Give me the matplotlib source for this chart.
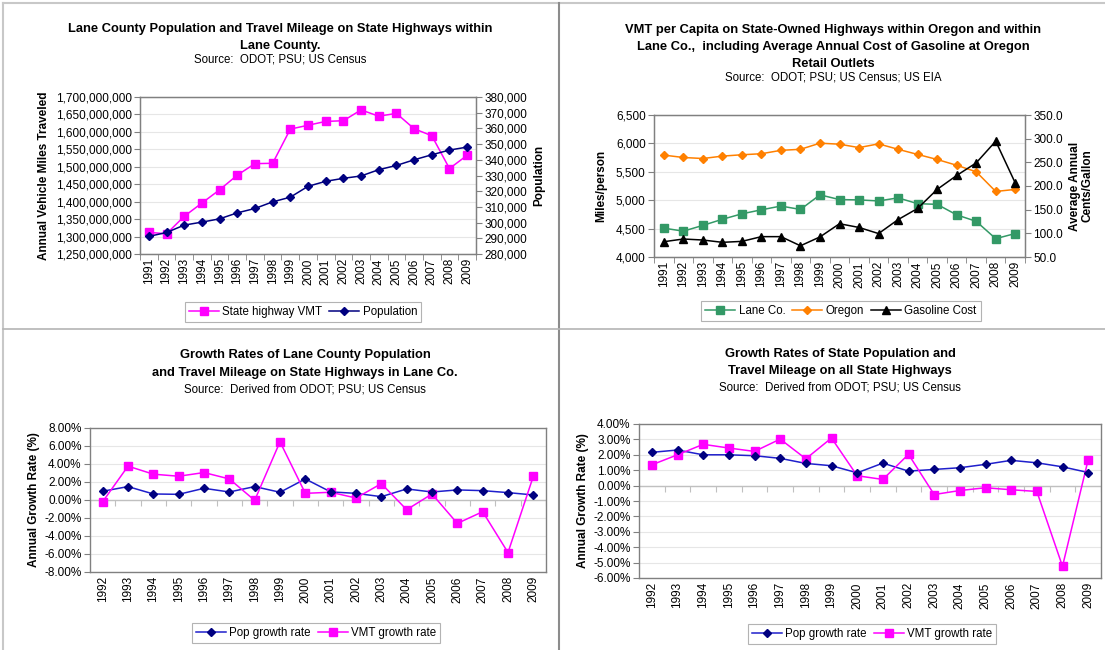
import matplotlib
matplotlib.use("Agg")
import matplotlib.pyplot as plt
from matplotlib.lines import Line2D
from matplotlib.ticker import FuncFormatter, MultipleLocator, FixedLocator
import numpy as np

plt.rcParams['font.family'] = ['Liberation Sans', 'DejaVu Sans']

# ---------------- data ----------------
years_a = [str(y) for y in range(1991, 2010)]
years_b = [str(y) for y in range(1992, 2010)]

lane_vmt = [1312e6, 1308e6, 1358e6, 1396e6, 1434e6, 1476e6, 1509e6, 1510e6, 1608e6,
            1619e6, 1630e6, 1632e6, 1663e6, 1645e6, 1653e6, 1609e6, 1589e6, 1495e6, 1533e6]
lane_pop = [291200, 293700, 298400, 300300, 302400, 306200, 309000, 313200, 316200,
            323100, 326300, 328200, 329700, 333700, 336400, 340000, 343200, 346200, 348100]

lane_per_cap = [4508, 4455, 4556, 4664, 4760, 4831, 4897, 4837, 5094, 5011, 5005,
                4987, 5041, 4939, 4927, 4742, 4628, 4323, 4413]
oregon_per_cap = [5794, 5752, 5734, 5776, 5800, 5818, 5878, 5896, 6004, 5986, 5926,
                  5992, 5896, 5806, 5717, 5615, 5501, 5154, 5190]
gas_cost = [82.3, 88.0, 85.9, 81.0, 83.0, 93.0, 93.0, 73.7, 92.4, 120.3, 112.4,
            99.5, 129.0, 152.6, 192.8, 222.2, 248.8, 294.7, 206.5]

lane_pop_growth = [0.97, 1.49, 0.67, 0.63, 1.30, 0.89, 1.49, 0.86, 2.34, 0.90, 0.74,
                   0.37, 1.23, 0.89, 1.12, 1.04, 0.82, 0.56]
lane_vmt_growth = [-0.19, 3.76, 2.87, 2.64, 3.05, 2.34, -0.04, 6.47, 0.74, 0.86, 0.22,
                   1.82, -1.08, 0.67, -2.60, -1.30, -5.84, 2.64]

state_pop_growth = [2.16, 2.31, 2.00, 2.00, 1.94, 1.77, 1.44, 1.29, 0.83, 1.46, 0.94,
                    1.05, 1.16, 1.38, 1.64, 1.48, 1.22, 0.85]
state_vmt_growth = [1.35, 2.00, 2.68, 2.44, 2.22, 3.02, 1.74, 3.09, 0.64, 0.40, 2.03,
                    -0.58, -0.32, -0.14, -0.27, -0.38, -5.24, 1.68]

# ---------------- styling ----------------
W, H = 1105, 650
MAGENTA = '#FF00FF'
NAVY = '#000080'
BLUE = '#1F1FCC'
GREEN = '#339966'
ORANGE = '#FF8000'
FRAME = '#808080'
GRID = '#E6E6E6'
TICKFS = 8.5
LABFS = 8.5

fig = plt.figure(figsize=(W / 100, H / 100), dpi=100)
fig.patch.set_facecolor('white')


def box(l, t, r, b):
    return [l / W, 1 - b / H, (r - l) / W, (b - t) / H]


def fx(x):
    return x / W


def fy(y):
    return 1 - y / H


def style_axes(ax, n):
    for s in ax.spines.values():
        s.set_color(FRAME)
        s.set_linewidth(1.0)
    ax.set_xlim(-0.5, n - 0.5)
    ax.yaxis.grid(True, color=GRID, linewidth=0.8)
    ax.set_axisbelow(True)
    ax.tick_params(axis='y', direction='out', length=4, color=FRAME, labelsize=TICKFS, pad=2)
    ax.tick_params(axis='x', which='major', length=0, labelsize=TICKFS, pad=3, labelrotation=90)
    ax.xaxis.set_minor_locator(FixedLocator(np.arange(-0.5, n, 1.0)))
    ax.tick_params(axis='x', which='minor', direction='out', length=4, color=FRAME)


def add_title(x, ys, lines, source):
    for y, line in zip(ys[:-1], lines):
        fig.text(fx(x), fy(y), line, ha='center', va='center', fontsize=9.3, fontweight='bold')
    fig.text(fx(x), fy(ys[-1]), source, ha='center', va='center', fontsize=8.3)


def add_legend(ax, handles, labels, cx, cy):
    leg = fig.legend(handles, labels, loc='center', bbox_to_anchor=(fx(cx), fy(cy)),
                     ncol=len(handles), fontsize=8.3, frameon=True, fancybox=False,
                     edgecolor='#A0A0A0', handlelength=2.6, handletextpad=0.3,
                     columnspacing=0.6, borderpad=0.35)
    leg.get_frame().set_linewidth(0.8)
    return leg


# ---------------- panel 1: top-left ----------------
ax1 = fig.add_axes(box(140, 97, 476, 254))
x1 = np.arange(len(years_a))
l1, = ax1.plot(x1, lane_vmt, color=MAGENTA, marker='s', markersize=6, linewidth=1.1, zorder=3)
ax1.set_ylim(1250e6, 1700e6)
ax1.yaxis.set_major_locator(MultipleLocator(50e6))
ax1.yaxis.set_major_formatter(FuncFormatter(lambda v, p: f'{v:,.0f}'))
ax1.set_xticks(x1)
ax1.set_xticklabels(years_a)
style_axes(ax1, len(years_a))
ax1.set_ylabel('Annual Vehicle Miles Traveled', fontsize=LABFS, fontweight='bold', labelpad=4)

ax1b = ax1.twinx()
l2, = ax1b.plot(x1, lane_pop, color=NAVY, marker='D', markersize=4.5, linewidth=1.1, zorder=3)
ax1b.set_ylim(280000, 380000)
ax1b.yaxis.set_major_locator(MultipleLocator(10000))
ax1b.yaxis.set_major_formatter(FuncFormatter(lambda v, p: f'{v:,.0f}'))
ax1b.tick_params(axis='y', direction='out', length=4, color=FRAME, labelsize=TICKFS, pad=2)
for s in ax1b.spines.values():
    s.set_color(FRAME)
ax1b.set_ylabel('Population', fontsize=LABFS, fontweight='bold', labelpad=4)
add_title(280, [29, 46, 60], ['Lane County Population and Travel Mileage on State Highways within',
                              'Lane County.'], 'Source:  ODOT; PSU; US Census')
add_legend(ax1, [l1, l2], ['State highway VMT', 'Population'], 303, 312)

# ---------------- panel 2: top-right ----------------
ax2 = fig.add_axes(box(654, 115, 1025, 257))
l3, = ax2.plot(x1, lane_per_cap, color=GREEN, marker='s', markersize=5.5, linewidth=1.1, zorder=3)
l4, = ax2.plot(x1, oregon_per_cap, color=ORANGE, marker='D', markersize=4, linewidth=1.1, zorder=3)
ax2.set_ylim(4000, 6500)
ax2.yaxis.set_major_locator(MultipleLocator(500))
ax2.yaxis.set_major_formatter(FuncFormatter(lambda v, p: f'{v:,.0f}'))
ax2.set_xticks(x1)
ax2.set_xticklabels(years_a)
style_axes(ax2, len(years_a))
ax2.set_ylabel('Miles/person', fontsize=LABFS, fontweight='bold', labelpad=6)

ax2b = ax2.twinx()
l5, = ax2b.plot(x1, gas_cost, color='black', marker='^', markersize=6, linewidth=1.1, zorder=3)
ax2b.set_ylim(50, 350)
ax2b.yaxis.set_major_locator(MultipleLocator(50))
ax2b.yaxis.set_major_formatter(FuncFormatter(lambda v, p: f'{v:.1f}'))
ax2b.tick_params(axis='y', direction='out', length=4, color=FRAME, labelsize=TICKFS, pad=2)
for s in ax2b.spines.values():
    s.set_color(FRAME)
ax2b.set_ylabel('Average Annual\nCents/Gallon', fontsize=LABFS, fontweight='bold', labelpad=4,
                linespacing=1.1)
add_title(833, [30, 47, 64, 78], ['VMT per Capita on State-Owned Highways within Oregon and within',
                                  'Lane Co.,  including Average Annual Cost of Gasoline at Oregon',
                                  'Retail Outlets'], 'Source:  ODOT; PSU; US Census; US EIA')
add_legend(ax2, [l3, l4, l5], ['Lane Co.', 'Oregon', 'Gasoline Cost'], 841, 311)


# ---------------- bottom panels ----------------
def growth_panel(rect, pop, vmt, ylo, yhi, step, title_x, title_ys, lines, leg_xy):
    ax = fig.add_axes(box(*rect))
    xb = np.arange(len(years_b))
    lp, = ax.plot(xb, pop, color=BLUE, linewidth=1.1, zorder=3)
    ax.plot(xb, pop, linestyle='none', marker='D', markersize=4.5, color=NAVY, zorder=4)
    lv, = ax.plot(xb, vmt, color=MAGENTA, marker='s', markersize=6, linewidth=1.1, zorder=3)
    ax.set_ylim(ylo, yhi)
    ax.yaxis.set_major_locator(MultipleLocator(step))
    ax.yaxis.set_major_formatter(FuncFormatter(lambda v, p: f'{v:.2f}%'))
    ax.set_xticks(xb)
    ax.set_xticklabels(years_b)
    style_axes(ax, len(years_b))
    ax.tick_params(axis='x', which='minor', length=0)
    ax.axhline(0, color='#C0C0C0', linewidth=1.0, zorder=2)
    bnds = np.arange(-0.5, len(years_b), 1.0)
    ax.plot(bnds, np.zeros_like(bnds), linestyle='none', marker=3, markersize=4,
            color='#C0C0C0', markeredgewidth=0.8, zorder=2)
    ax.set_ylabel('Annual Growth Rate (%)', fontsize=LABFS, fontweight='bold', labelpad=3)
    add_title(title_x, title_ys, lines, 'Source:  Derived from ODOT; PSU; US Census')
    hp = Line2D([], [], color=BLUE, linewidth=1.1, marker='D', markersize=4.5,
                markerfacecolor=NAVY, markeredgecolor=NAVY)
    add_legend(ax, [hp, lv], ['Pop growth rate', 'VMT growth rate'], *leg_xy)
    return ax


growth_panel((90, 428, 546, 572), lane_pop_growth, lane_vmt_growth, -8, 8, 2,
             305, [355, 373, 389],
             ['Growth Rates of Lane County Population',
              'and Travel Mileage on State Highways in Lane Co.'], (316, 633))

growth_panel((639, 424, 1101, 578), state_pop_growth, state_vmt_growth, -6, 4, 1,
             840, [354, 371, 387],
             ['Growth Rates of State Population and',
              'Travel Mileage on all State Highways'], (872, 634))

# ---------------- panel borders ----------------
fig.add_artist(Line2D([fx(3), fx(1105)], [fy(3), fy(3)], color='#C8C8C8', linewidth=1.5))
fig.add_artist(Line2D([fx(3), fx(3)], [fy(3), fy(650)], color='#C8C8C8', linewidth=1.5))
fig.add_artist(Line2D([fx(559), fx(559)], [fy(3), fy(650)], color='#8C8C8C', linewidth=1.5))
fig.add_artist(Line2D([fx(3), fx(1105)], [fy(329), fy(329)], color='#B4B4B4', linewidth=1.2))

fig.savefig('out.png', dpi=100)
